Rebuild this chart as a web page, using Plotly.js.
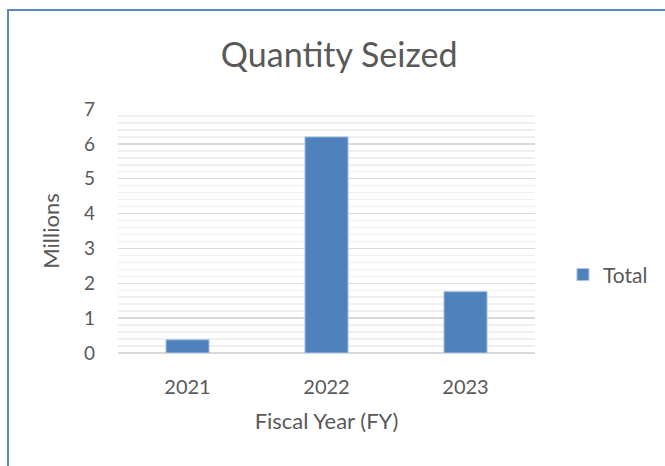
<!DOCTYPE html>
<html>
<head>
<meta charset="utf-8">
<script src="https://cdn.plot.ly/plotly-3.0.1.min.js"></script>
<style>
html,body{margin:0;padding:0;background:#fff;}
#wrap{position:relative;width:665px;height:466px;}
#chart{position:absolute;left:0;top:0;width:665px;height:466px;}
#frame{position:absolute;left:7px;top:9px;width:680px;height:480px;border:2px solid #5B87C5;box-sizing:border-box;pointer-events:none;}
</style>
</head>
<body>
<div id="wrap"><div id="chart"></div><div id="frame"></div></div>
<script>
const categories = ["2021", "2022", "2023"];
const totals = [0.38, 6.2, 1.76];
const seriesName = "Total";
const yTicks = [0, 1, 2, 3, 4, 5, 6, 7];

const font = "Lato, 'Open Sans', sans-serif";
const textColor = "#595959";

Plotly.newPlot("chart", [{
  type: "bar",
  x: categories,
  y: totals,
  name: seriesName,
  marker: {color: "#4F81BD", line: {color: "#A9C4E8", width: 1}},
  showlegend: true
}], {
  width: 665, height: 466,
  margin: {l: 118, r: 130, t: 109, b: 113, autoexpand: false},
  paper_bgcolor: "#fff", plot_bgcolor: "#fff",
  font: {family: font, color: textColor, size: 20},
  title: {text: "Quantity Seized", font: {family: font, size: 34, color: textColor}, x: 0.51, xanchor: "center", y: 0.882, yanchor: "middle"},
  bargap: 0.69,
  xaxis: {
    type: "category",
    tickfont: {size: 20, color: textColor},
    showgrid: false, zeroline: false,
    showline: false, ticks: "", ticklabelstandoff: 20,
    title: {text: "Fiscal Year (FY)", font: {size: 22, color: textColor}, standoff: 16}
  },
  yaxis: {
    range: [0, 7],
    tickvals: yTicks,
    ticktext: yTicks.map(String),
    tickfont: {size: 19, color: textColor},
    showgrid: true, gridcolor: "#D9D9D9", gridwidth: 1.5,
    minor: {dtick: 0.2, showgrid: true, gridcolor: "#EFEFEF", gridwidth: 1.5},
    zeroline: true, zerolinecolor: "#D9D9D9", zerolinewidth: 1.5,
    ticks: "", ticklabelstandoff: 22,
    title: {text: "Millions", font: {size: 22, color: textColor}, standoff: 18}
  },
  showlegend: true,
  legend: {x: 1.067, xanchor: "left", y: 0.32, yanchor: "middle", font: {size: 21, color: textColor}, itemwidth: 30, bgcolor: "rgba(0,0,0,0)"}
}, {displayModeBar: false, staticPlot: true});
</script>
</body>
</html>
